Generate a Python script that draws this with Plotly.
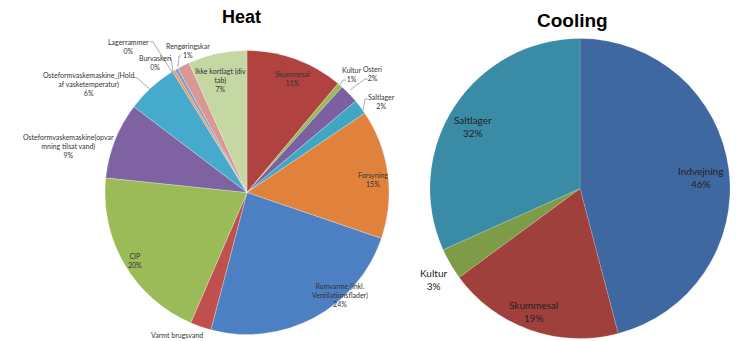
import plotly.graph_objects as go

W, H = 740, 341

# ---------------- data ----------------
heat_labels = [
    "Skummesal", "Kultur", "Osteri", "Saltlager", "Forsyning",
    "Rumvarme (inkl.<br>Ventilationsflader)", "Varmt brugsvand", "CIP",
    "Osteformvaskemaskine(opvar<br>mning tilsat vand)",
    "Osteformvaskemaskine_(Hold<br>af vasketemperatur)",
    "Lagerrammer", "Burvaskeri", "Rengøringskar", "Ikke kortlagt (div<br>tab)",
]
heat_values = [11.1, 0.6, 2.2, 1.7, 14.7, 23.9, 2.4, 20.2, 8.7, 5.9, 0.3, 0.4, 1.4, 6.7]
heat_colors = ["#B0433F", "#9BBB59", "#7D60A0", "#3FA7C4", "#E0823C", "#4D80C2",
               "#C0504D", "#9BBB59", "#7F62A2", "#45AACB", "#F79646", "#7FA0D0",
               "#D99795", "#C5D7A2"]

cool_labels = ["Indvejning", "Skummesal", "Kultur", "Saltlager"]
cool_values = [45.9, 19.0, 3.4, 31.7]
cool_colors = ["#3F68A0", "#A0403D", "#7E9B47", "#3A8CA6"]

# ---------------- helpers ----------------
def px(x):
    return x / W

def py(y):
    return 1 - y / H

def dom(cx, cy, r):
    return dict(x=[px(cx - r), px(cx + r)], y=[py(cy + r), py(cy - r)])

fig = go.Figure()
fig.add_trace(go.Pie(
    labels=heat_labels, values=heat_values, sort=False, direction="clockwise",
    rotation=0, textinfo="none", hoverinfo="label+percent",
    marker=dict(colors=heat_colors, line=dict(color="rgba(255,255,255,0.5)", width=0.5)),
    domain=dom(247, 192.5, 142), showlegend=False,
))
fig.add_trace(go.Pie(
    labels=cool_labels, values=cool_values, sort=False, direction="clockwise",
    rotation=0, textinfo="none", hoverinfo="label+percent",
    marker=dict(colors=cool_colors, line=dict(color="rgba(255,255,255,0.3)", width=0.5)),
    domain=dom(580, 188.5, 150), showlegend=False,
))

LFONT = "Lato, 'Open Sans', sans-serif"
ann = []

def pct(vals, i):
    return "%d%%" % round(100 * vals[i] / sum(vals))

# label anchor positions (pixels) for heat labels
heat_pos = [(292, 78), (351, 74), (373, 73), (382, 102), (373, 179), (340, 295),
            (177, 335), (135, 260), (68, 146), (88, 84), (128, 46), (155, 62),
            (188, 51), (220, 80)]
for i, lab in enumerate(heat_labels):
    x, y = heat_pos[i]
    txt = lab if i == 6 else lab + "<br>" + pct(heat_values, i)
    ann.append(dict(x=px(x), y=py(y), xref="paper", yref="paper", text=txt,
                    showarrow=False, align="center", xanchor="center", yanchor="middle",
                    font=dict(family=LFONT, size=7, color="#333333")))

cool_pos = [(700, 177), (533, 311), (433, 279), (473, 126)]
for i, lab in enumerate(cool_labels):
    x, y = cool_pos[i]
    ann.append(dict(x=px(x), y=py(y), xref="paper", yref="paper",
                    text=lab + "<br>" + pct(cool_values, i),
                    showarrow=False, align="center", xanchor="center", yanchor="middle",
                    font=dict(family=LFONT, size=10, color="#222222")))

ann.append(dict(x=px(241), y=py(17), xref="paper", yref="paper", text="<b>Heat</b>",
                xanchor="center", yanchor="middle",
                showarrow=False, font=dict(family="Liberation Sans, Arial", size=18, color="#000")))
ann.append(dict(x=px(572), y=py(21), xref="paper", yref="paper", text="<b>Cooling</b>",
                xanchor="center", yanchor="middle",
                showarrow=False, font=dict(family="Liberation Sans, Arial", size=19, color="#000")))

# leader lines (pixels)
leaders = [
    [(150, 42), (153, 42), (172, 72)],
    [(169, 58), (171, 58), (173, 72)],
    [(181, 56), (179, 56), (178, 67)],
    [(133, 77), (137, 78), (151, 90)],
    [(346, 80), (343, 80), (340, 85)],
    [(368, 79), (365, 79), (350, 90)],
    [(368, 99), (365, 99), (363, 110)],
]
shapes = []
for pts in leaders:
    for (x0, y0), (x1, y1) in zip(pts[:-1], pts[1:]):
        shapes.append(dict(type="line", xref="paper", yref="paper",
                           x0=px(x0), y0=py(y0), x1=px(x1), y1=py(y1),
                           line=dict(color="#8a8a8a", width=0.7)))

fig.update_layout(
    width=W, height=H, margin=dict(l=0, r=0, t=0, b=0),
    paper_bgcolor="white", plot_bgcolor="white",
    annotations=ann, shapes=shapes,
)
fig.write_html("out.html")
